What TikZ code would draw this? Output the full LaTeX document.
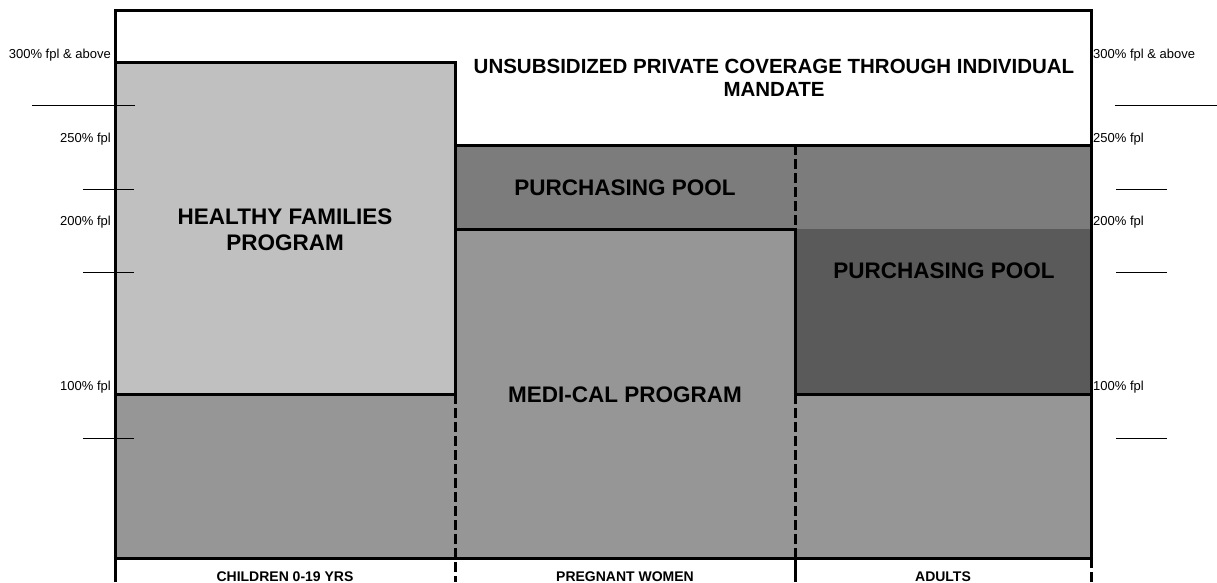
\documentclass[tikz,border=0pt]{standalone}
\usepackage{fontspec}
\setmainfont{Liberation Sans}
\definecolor{hfgray}{HTML}{C0C0C0}
\definecolor{mcgray}{HTML}{969696}
\definecolor{poolgray}{HTML}{7C7C7C}
\definecolor{pooldark}{HTML}{5A5A5A}
\begin{document}
\begin{tikzpicture}[x=1pt,y=-1pt,
  thick border/.style={line width=3pt},
  divider/.style={line width=3pt, dash pattern=on 10pt off 4pt},
  tickline/.style={line width=1pt},
  leftlabel/.style={font=\fontsize{13}{15}\selectfont, inner sep=0pt, anchor=base east},
  rightlabel/.style={font=\fontsize{13}{15}\selectfont, inner sep=0pt, anchor=base west},
  bandtext/.style={font=\fontsize{22.5}{26}\selectfont\bfseries, inner sep=0pt, anchor=base, align=center},
  titletext/.style={font=\fontsize{20.5}{23.5}\selectfont\bfseries, inner sep=0pt, anchor=base, align=center},
  grouptext/.style={font=\fontsize{14}{16}\selectfont\bfseries, inner sep=0pt, anchor=base}]
  \useasboundingbox (0,0) rectangle (1217,582);
  \fill[white] (0,0) rectangle (1217,582);

  % coverage bands
  \fill[hfgray]   (115,62)  rectangle (455,394);
  \fill[mcgray]   (115,394) rectangle (455,558);
  \fill[poolgray] (455,145) rectangle (1091,229);
  \fill[mcgray]   (455,229) rectangle (795,558);
  \fill[pooldark] (795,229) rectangle (1091,394);
  \fill[mcgray]   (795,394) rectangle (1091,558);

  % outer frame
  \draw[thick border] (115,582) -- (115,10) -- (1091,10) -- (1091,558);
  \draw[thick border] (115,558) -- (1091,558);

  % band borders
  \draw[thick border] (115,62) -- (455,62) -- (455,394) -- (115,394);
  \draw[thick border] (455,145) -- (1091,145);
  \draw[thick border] (455,229) -- (795,229) -- (795,394);
  \draw[thick border] (795,394) -- (1091,394);
  \draw[thick border] (795,558) -- (795,582);

  % column dividers
  \draw[divider] (455,394) -- (455,582);
  \draw[divider] (795,145) -- (795,229);
  \draw[divider] (795,394) -- (795,558);
  \draw[divider] (1091,558) -- (1091,582);

  % income ticks
  \draw[tickline] (32,105) -- (135,105);
  \draw[tickline] (83,189) -- (134,189);
  \draw[tickline] (83,272) -- (134,272);
  \draw[tickline] (83,438) -- (134,438);
  \draw[tickline] (1115,105) -- (1217,105);
  \draw[tickline] (1116,189) -- (1167,189);
  \draw[tickline] (1116,272) -- (1167,272);
  \draw[tickline] (1116,438) -- (1167,438);

  % income labels
  \node[leftlabel] (l300) at (111,58.5) {300\% fpl \& above};
  \node[leftlabel] (l250) at (111,142) {250\% fpl};
  \node[leftlabel] (l200) at (111,225.5) {200\% fpl};
  \node[leftlabel] (l100) at (111,390.5) {100\% fpl};
  \node[rightlabel] (r300) at (1093,58.5) {300\% fpl \& above};
  \node[rightlabel] (r250) at (1093,142) {250\% fpl};
  \node[rightlabel] (r200) at (1093,225.5) {200\% fpl};
  \node[rightlabel] (r100) at (1093,390.5) {100\% fpl};

  % program labels (two-line nodes sit on the baseline of their last line)
  \node[titletext] (private) at (774,96.8) {UNSUBSIDIZED PRIVATE COVERAGE THROUGH INDIVIDUAL\\MANDATE};
  \node[bandtext] (hfp) at (285,250) {HEALTHY FAMILIES\\PROGRAM};
  \node[bandtext] (pool1) at (625,195) {PURCHASING POOL};
  \node[bandtext] (pool2) at (944,278) {PURCHASING POOL};
  \node[bandtext] (medical) at (625,402.5) {MEDI-CAL PROGRAM};

  % population groups
  \node[grouptext] (children) at (285,581) {CHILDREN 0-19 YRS};
  \node[grouptext] (pregnant) at (625,581) {PREGNANT WOMEN};
  \node[grouptext] (adults) at (943,581) {ADULTS};
\end{tikzpicture}
\end{document}
